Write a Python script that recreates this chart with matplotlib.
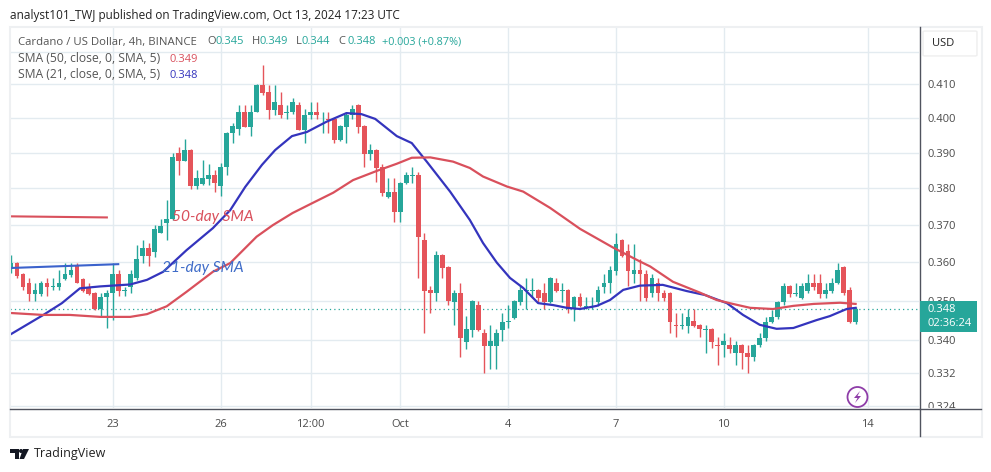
"""Cardano / USD 4h candlestick chart with two SMA lines."""
import matplotlib; matplotlib.use('Agg')
import matplotlib.pyplot as plt
from matplotlib.lines import Line2D
from matplotlib.patches import Rectangle, FancyBboxPatch, Ellipse, Polygon
from matplotlib.transforms import Bbox

plt.rcParams['font.family'] = ['Open Sans', 'DejaVu Sans']

opens = [.3584, .3597, .3569, .3547, .3518, .3518, .3547, .3536, .3536, .3557,
         .3567, .3589, .3557, .3536, .3519, .3478, .3509, .3519, .3569, .3526,
         .3536, .3558, .3617, .3637, .3628, .3677, .3706, .3717, .3899, .3878,
         .3908, .3806, .3813, .3827, .3837, .3807, .3859, .3957, .3968, .4017,
         .3975, .4017, .4098, .4077, .4024, .4039, .4016, .4017, .4039, .3966,
         .4008, .4017, .4011, .3997, .3997, .3937, .3975, .4008, .4038, .3976,
         .3896, .3908, .3859, .3777, .3789, .3736, .3816, .3835, .3836, .3658,
         .3528, .3519, .3619, .3588, .3497, .3519, .3397, .3426, .3489, .3418,
         .3387, .3387, .3426, .3447, .3457, .3497, .3526, .3526, .3528, .3519,
         .3497, .3547, .3526, .3528, .3479, .3509, .3485, .3485, .3497, .3536,
         .3547, .3578, .3659, .3629, .3568, .3580, .3568, .3519, .3547, .3519,
         .3519, .3438, .3436, .3437, .3449, .3438, .3426, .3428, .3389, .3388,
         .3388, .3368, .3388, .3368, .3358, .3388, .3407, .3447, .3458, .3497,
         .3538, .3517, .3508, .3526, .3547, .3547, .3518, .3526, .3547, .3588,
         .3528, .3447]
highs = [.3619, .3600, .3572, .3558, .3545, .3550, .3558, .3558, .3580, .3597,
         .3597, .3597, .3560, .3545, .3522, .3519, .3528, .3597, .3580, .3536,
         .3580, .3646, .3659, .3650, .3699, .3717, .3768, .3899, .3918, .3939,
         .3911, .3851, .3880, .3868, .3851, .3870, .3960, .3987, .4039, .4039,
         .4039, .4101, .4160, .4098, .4098, .4077, .4039, .4059, .4048, .4026,
         .4048, .4048, .4017, .4017, .4000, .3979, .4017, .4039, .4041, .3979,
         .3926, .3911, .3868, .3828, .3828, .3819, .3846, .3859, .3846, .3677,
         .3538, .3629, .3622, .3591, .3528, .3547, .3460, .3502, .3499, .3429,
         .3439, .3429, .3468, .3489, .3502, .3541, .3559, .3559, .3531, .3547,
         .3561, .3559, .3547, .3531, .3512, .3519, .3509, .3509, .3538, .3568,
         .3589, .3677, .3662, .3649, .3649, .3608, .3580, .3568, .3558, .3528,
         .3522, .3468, .3468, .3478, .3478, .3441, .3438, .3431, .3409, .3418,
         .3409, .3398, .3391, .3388, .3391, .3418, .3458, .3477, .3500, .3547,
         .3541, .3547, .3547, .3568, .3568, .3568, .3547, .3558, .3597, .3591,
         .3536, .3484]
lows = [.3571, .3558, .3528, .3500, .3500, .3511, .3511, .3528, .3528, .3554,
        .3562, .3545, .3523, .3515, .3477, .3460, .3430, .3451, .3511, .3511,
        .3519, .3554, .3597, .3589, .3615, .3677, .3659, .3713, .3837, .3878,
        .3799, .3797, .3809, .3809, .3791, .3779, .3837, .3929, .3951, .3975,
        .3948, .4017, .4069, .3998, .4010, .4001, .3998, .4012, .3966, .3929,
        .3998, .3998, .3958, .3958, .3929, .3934, .3929, .3998, .3958, .3860,
        .3880, .3818, .3779, .3774, .3708, .3708, .3813, .3816, .3560, .3419,
        .3470, .3500, .3560, .3489, .3439, .3360, .3379, .3409, .3423, .3321,
        .3330, .3330, .3398, .3430, .3454, .3489, .3478, .3509, .3497, .3478,
        .3494, .3523, .3497, .3470, .3449, .3484, .3478, .3478, .3486, .3519,
        .3519, .3567, .3614, .3538, .3547, .3499, .3499, .3509, .3499, .3499,
        .3418, .3409, .3429, .3419, .3434, .3409, .3370, .3381, .3339, .3360,
        .3368, .3339, .3330, .3320, .3350, .3384, .3398, .3443, .3453, .3489,
        .3509, .3511, .3505, .3519, .3528, .3508, .3508, .3519, .3544, .3516,
        .3444, .3442]
closes = [.3597, .3565, .3536, .3518, .3528, .3547, .3536, .3538, .3547, .3569,
          .3580, .3547, .3526, .3518, .3478, .3509, .3519, .3569, .3526, .3528,
          .3569, .3608, .3637, .3617, .3688, .3698, .3717, .3887, .3878, .3908,
          .3806, .3828, .3828, .3837, .3815, .3859, .3957, .3976, .4017, .3975,
          .4017, .4098, .4074, .4024, .4048, .4008, .4018, .4048, .3966, .4010,
          .4017, .4008, .4013, .3995, .3937, .3976, .4010, .4026, .3975, .3897,
          .3908, .3857, .3787, .3789, .3736, .3816, .3837, .3837, .3668, .3525,
          .3519, .3619, .3586, .3499, .3519, .3407, .3428, .3499, .3426, .3387,
          .3398, .3418, .3447, .3449, .3499, .3528, .3528, .3528, .3507, .3497,
          .3558, .3526, .3528, .3479, .3509, .3487, .3487, .3487, .3528, .3547,
          .3580, .3649, .3617, .3578, .3580, .3568, .3508, .3558, .3519, .3506,
          .3447, .3436, .3438, .3458, .3437, .3428, .3428, .3397, .3387, .3398,
          .3378, .3388, .3368, .3358, .3388, .3407, .3447, .3458, .3497, .3538,
          .3518, .3519, .3538, .3547, .3536, .3518, .3528, .3547, .3580, .3519,
          .3447, .3478]

sma21_x = [-0.2, 5.4, 8.5, 11.5, 14.9, 19.9, 22.7, 25.4, 29.3, 33.7, 36.6, 39.1, 41.9, 44.1,
           46.9, 49.4, 52.7, 56.0, 58.5, 60.8, 64.4, 66.9, 69.4, 73.3, 76.6, 78.8, 81.1,
           83.3, 85.5, 88.0, 90.5, 92.8, 95.0, 97.8, 100.0, 102.2, 105.0, 108.8, 112.8,
           115.8, 119.5, 122.2, 125.0, 127.8, 130.6, 134.5, 136.7, 139.5, 141.0]
sma21 = [.3414, .3464, .3494, .3532, .3537, .3542, .3554, .3575, .3632, .3691, .3740, .3804,
         .3866, .3908, .3948, .3960, .3990, .4015, .4012, .3998, .3948, .3928, .3875, .3791,
         .3713, .3651, .3599, .3559, .3533, .3494, .3489, .3482, .3479, .3487, .3502, .3528,
         .3539, .3541, .3525, .3515, .3494, .3464, .3439, .3429, .3431, .3451, .3461, .3479,
         .3482]
sma50_x = [-0.2, 5.3, 9.8, 14.9, 19.9, 22.7, 26.0, 29.3, 33.7, 36.6, 41.0, 43.7, 47.0, 50.4,
           53.8, 57.1, 61.1, 64.4, 66.9, 70.0, 73.8, 76.6, 78.8, 82.8, 85.5, 90.0, 95.0,
           100.5, 105.0, 106.7, 110.5, 115.0, 117.8, 120.5, 123.4, 127.2, 130.6, 134.0,
           138.4, 141.0]
sma50 = [.3469, .3464, .3464, .3459, .3459, .3466, .3486, .3523, .3575, .3598, .3668, .3699,
         .3732, .3760, .3788, .3823, .3849, .3869, .3886, .3887, .3875, .3857, .3833, .3805,
         .3791, .3746, .3689, .3639, .3602, .3589, .3549, .3521, .3502, .3492, .3482, .3479,
         .3487, .3492, .3495, .3492]

date_pos = [17, 35, 50, 65, 83, 101, 119, 143]
date_labels = ['23', '26', '12:00', 'Oct', '4', '7', '10', '14']
price_ticks = [.324, .332, .340, .350, .360, .370, .380, .390, .400, .410, .420]
price_labels = ['0.324', '0.332', '0.340', '0.350', '0.360', '0.370', '0.380', '0.390',
                '0.400', '0.410', '']
last_price = .348

UP, DOWN = '#26a69a', '#e5545a'
RED, BLUE = '#d9505c', '#3434bd'
W, H = 991, 472


def fx(x): return x / W
def fy(y): return 1 - y / H


fig = plt.figure(figsize=(W / 100, H / 100), dpi=100)
ax = fig.add_axes([fx(10), fy(408), fx(909), 381 / H])
ax.set_yscale('log')
ax.set_xlim(-0.17, 151.58)
ax.set_ylim(.3236, .4276)
ax.minorticks_off()
ax.set_yticks(price_ticks, price_labels)
ax.set_xticks(date_pos, date_labels)
ax.minorticks_off()
ax.yaxis.tick_right()
ax.tick_params(axis='both', length=0, labelsize=8, labelcolor='#4a4a4a')
ax.tick_params(axis='x', pad=8)
ax.tick_params(axis='y', pad=6)
ax.grid(True, color='#e3ebf0', lw=1)
ax.set_axisbelow(True)
for s in ax.spines.values():
    s.set_visible(False)

# 0.324 sits on the axis line and is cut off by it
for lab in ax.get_yticklabels():
    if lab.get_text() == '0.324':
        lab.set_clip_box(Bbox([[900, 472 - 408], [991, 472]]))
        lab.set_clip_on(True)

idx = list(range(len(opens)))
colors = [UP if c >= o else DOWN for o, c in zip(opens, closes)]
ax.axhline(last_price, color=UP, ls=(0, (1, 2.5)), lw=0.9, zorder=1)
ax.vlines(idx, lows, highs, colors=colors, lw=1, zorder=2)
ax.bar(idx, [abs(c - o) for o, c in zip(opens, closes)],
       bottom=[min(o, c) for o, c in zip(opens, closes)],
       width=0.8, color=colors, zorder=2)

ax.plot(sma21_x, sma21, color=BLUE, lw=1.6, zorder=3, solid_joinstyle='round')
ax.plot(sma50_x, sma50, color=RED, lw=1.6, zorder=3, solid_joinstyle='round')

# hand drawn notes from the author
ax.plot([-0.17, 16], [.3723, .3720], color=RED, lw=1.5, zorder=3)
ax.plot([0, 17.9], [.3585, .3595], color='#3a62cc', lw=1.5, zorder=3)
ax.text(26.8, .3720, '50-day SMA', color=RED, fontsize=11.2, style='italic',
        va='center', zorder=4, family='Lato')
ax.text(25.2, .3585, '21-day SMA', color='#3f6cc8', fontsize=11.2, style='italic',
        va='center', zorder=4, family='Lato')

# frame around the chart
fig.add_artist(Rectangle((fx(9.5), fy(436.5)), fx(972), 410 / H, fill=False, ec='#eef0f2', lw=1.5))
fig.add_artist(Line2D([fx(10), fx(981)], [fy(408.5)] * 2, color='#50535e', lw=1))
fig.add_artist(Line2D([fx(919.5)] * 2, [fy(27), fy(436)], color='#50535e', lw=1))

# USD button
fig.add_artist(FancyBboxPatch((fx(925), fy(55)), fx(50), 23 / H, boxstyle='round,pad=0.002',
                              fc='white', ec='#eeeeee', lw=1))
fig.text(fx(932), fy(44), 'USD', fontsize=8, color='#222222', va='center')

# price badge
fig.add_artist(Rectangle((fx(920), fy(332)), fx(57), 31 / H, fc=UP, ec='none', zorder=2))
fig.text(fx(928), fy(310), '0.348', fontsize=8, color='white', va='center')
fig.text(fx(928), fy(324), '02:36:24', fontsize=8, color='white', va='center')

# header
fig.text(fx(10), fy(15), 'analyst101_TWJ published on TradingView.com, Oct 13, 2024 17:23 UTC',
         fontsize=8.45, color='#222222', va='center')
fig.text(fx(18), fy(42), 'Cardano / US Dollar, 4h, BINANCE', fontsize=8.2, color='#555555', va='center')
for x, lab in zip([207, 252, 296, 338], 'OHLC'):
    fig.text(fx(x), fy(42), lab, fontsize=8, color='#555555', va='center')
for x, val in zip([216, 260, 302, 347], ['0.345', '0.349', '0.344', '0.348']):
    fig.text(fx(x), fy(42), val, fontsize=8, color=UP, va='center')
fig.text(fx(382), fy(42), '+0.003 (+0.87%)', fontsize=7.8, color=UP, va='center')
fig.text(fx(18), fy(59), 'SMA (50, close, 0, SMA, 5)', fontsize=8.7, color='#555555', va='center')
fig.text(fx(169), fy(59), '0.349', fontsize=8, color=RED, va='center')
fig.text(fx(18), fy(75), 'SMA (21, close, 0, SMA, 5)', fontsize=8.7, color='#555555', va='center')
fig.text(fx(169), fy(75), '0.348', fontsize=8, color=BLUE, va='center')

# lightning badge
fig.add_artist(Ellipse((fx(857.5), fy(397)), 20 / W, 20 / H, fc='white', ec='#8e3da8', lw=1.3, zorder=3))
bolt = [(860, 391), (854, 398), (857.5, 398), (855, 403), (861, 396), (857.5, 396)]
fig.add_artist(Polygon([(fx(x), fy(y)) for x, y in bolt], fc='#8e3da8', ec='none', zorder=3))

# TradingView logo
logo = [[(10, 449), (19, 449), (19, 459), (14.5, 459), (14.5, 453), (10, 453)],
        [(23, 449), (29, 449), (24, 459), (19.5, 459)]]
for shape in logo:
    fig.add_artist(Polygon([(fx(x), fy(y)) for x, y in shape], fc='#131722', ec='none'))
fig.add_artist(Ellipse((fx(21), fy(451)), 4 / W, 4 / H, fc='#131722', ec='none'))
fig.text(fx(34), fy(454), 'TradingView', fontsize=9, color='#222222', va='center')

fig.savefig('out.png', dpi=100)
